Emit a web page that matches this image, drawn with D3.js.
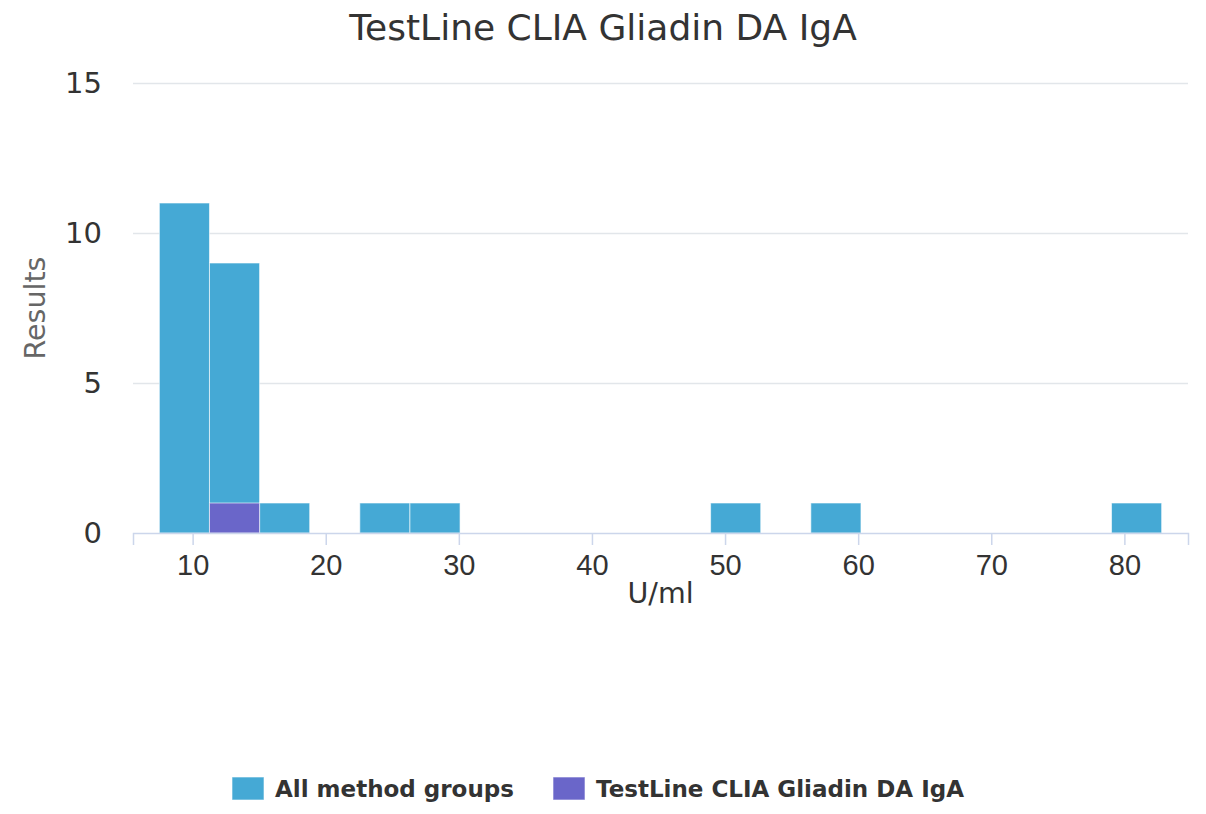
<!DOCTYPE html>
<html>
<head>
<meta charset="utf-8">
<script src="https://cdn.jsdelivr.net/npm/d3@7"></script>
<style>
  body { margin: 0; background: #fff; }
  svg { display: block; font-family: "DejaVu Sans", Verdana, sans-serif; }
</style>
</head>
<body>
<div id="chart"></div>
<script>
// histogram data
const chartTitle = "TestLine CLIA Gliadin DA IgA";
const binStart = 7.5;      // U/ml, left edge of first bin
const binWidth = 3.765;    // U/ml
const allCounts = [11, 9, 1, 0, 1, 1, 0, 0, 0, 0, 0, 1, 0, 1, 0, 0, 0, 0, 0, 1];
const groupCounts = [0, 1];
const seriesNames = ["All method groups", "TestLine CLIA Gliadin DA IgA"];
const seriesColors = ["#45a9d5", "#6a66c9"];
const xTicks = [10, 20, 30, 40, 50, 60, 70, 80];
const yTicks = [0, 5, 10, 15];

const width = 1206, height = 814;
const margin = {left: 133, right: 18, top: 83, bottom: 281};

const svg = d3.select("#chart").append("svg")
    .attr("width", width)
    .attr("height", height);

// scales
let x = d3.scaleLinear().domain([5.52, 84.78]).range([margin.left, width - margin.right]);
let y = d3.scaleLinear().domain([0, 15]).range([height - margin.bottom, margin.top]);

// grid lines
svg.append("g").selectAll("line")
    .data(yTicks.filter(d => d > 0))
    .join("line")
    .attr("x1", margin.left).attr("x2", width - margin.right)
    .attr("y1", d => y(d) + 0.5).attr("y2", d => y(d) + 0.5)
    .attr("stroke", "#e2e6ea").attr("stroke-width", 1.5);

// bars
const toBins = counts => counts.map((c, i) => ({x0: binStart + i * binWidth, x1: binStart + (i + 1) * binWidth, c: c}))
                               .filter(d => d.c > 0);

[allCounts, groupCounts].forEach((counts, k) => {
    svg.append("g").selectAll("rect")
        .data(toBins(counts))
        .join("rect")
        .attr("x", d => x(d.x0))
        .attr("width", d => x(d.x1) - x(d.x0))
        .attr("y", d => y(d.c))
        .attr("height", d => y(0) - y(d.c))
        .attr("fill", seriesColors[k])
        .attr("stroke", "#fff").attr("stroke-opacity", 0.6).attr("stroke-width", 1);
});

// x axis
let xAxis = d3.axisBottom(x).tickValues(xTicks).tickSize(12).tickPadding(9);
let gx = svg.append("g").attr("transform", `translate(0,${y(0)})`).call(xAxis);
gx.select(".domain").attr("stroke", "#ccd6eb").attr("stroke-width", 1.5);
gx.selectAll(".tick line").attr("stroke", "#ccd6eb").attr("stroke-width", 1.5);
gx.selectAll(".tick text").attr("fill", "#333").attr("font-size", 29);

// y axis labels
svg.append("g").selectAll("text")
    .data(yTicks)
    .join("text")
    .attr("x", 102)
    .attr("y", d => y(d) + 10)
    .attr("text-anchor", "end")
    .attr("fill", "#333")
    .attr("font-size", 29)
    .text(d => d);

// titles
svg.append("text")
    .attr("x", width / 2).attr("y", 40)
    .attr("text-anchor", "middle")
    .attr("fill", "#333").attr("font-size", 36)
    .text(chartTitle);

svg.append("text")
    .attr("x", (margin.left + width - margin.right) / 2).attr("y", 603)
    .attr("text-anchor", "middle")
    .attr("fill", "#333").attr("font-size", 28.5)
    .text("U/ml");

svg.append("text")
    .attr("transform", "translate(45,308) rotate(-90)")
    .attr("text-anchor", "middle")
    .attr("fill", "#666").attr("font-size", 28.5)
    .text("Results");

// legend
const legendX = [232, 553];
let legend = svg.append("g").selectAll("g")
    .data(seriesNames)
    .join("g")
    .attr("transform", (d, i) => `translate(${legendX[i]},777)`);
legend.append("rect")
    .attr("width", 32).attr("height", 23)
    .attr("fill", (d, i) => seriesColors[i])
    .attr("stroke", "#fff").attr("stroke-opacity", 0.6);
legend.append("text")
    .attr("x", 43).attr("y", 20)
    .attr("fill", "#333").attr("font-size", 23).attr("font-weight", "bold")
    .text(d => d);
</script>
</body>
</html>
